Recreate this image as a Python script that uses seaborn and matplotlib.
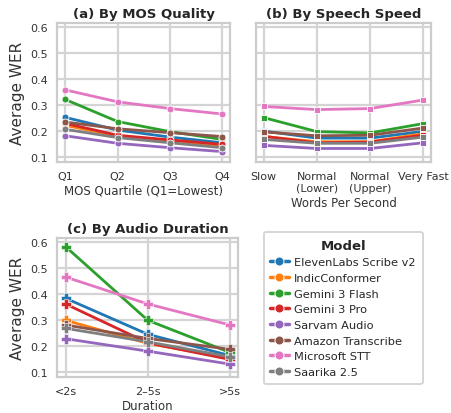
import pandas as pd
import seaborn as sns
import matplotlib
matplotlib.use('Agg')
import matplotlib.pyplot as plt

models = ['ElevenLabs Scribe v2', 'IndicConformer', 'Gemini 3 Flash', 'Gemini 3 Pro',
          'Sarvam Audio', 'Amazon Transcribe', 'Microsoft STT', 'Saarika 2.5']

# (a) MOS quartiles
mos_cats = ['Q1', 'Q2', 'Q3', 'Q4']
mos_wer = {
    'ElevenLabs Scribe v2': [0.253, 0.204, 0.177, 0.155],
    'IndicConformer':       [0.222, 0.182, 0.162, 0.145],
    'Gemini 3 Flash':       [0.322, 0.237, 0.198, 0.168],
    'Gemini 3 Pro':         [0.230, 0.184, 0.166, 0.149],
    'Sarvam Audio':         [0.182, 0.153, 0.136, 0.121],
    'Amazon Transcribe':    [0.235, 0.209, 0.194, 0.179],
    'Microsoft STT':        [0.359, 0.313, 0.287, 0.266],
    'Saarika 2.5':          [0.207, 0.175, 0.155, 0.136],
}

# (b) speech speed
speed_cats = ['Slow', 'Normal\n(Lower)', 'Normal\n(Upper)', 'Very Fast']
speed_wer = {
    'ElevenLabs Scribe v2': [0.200, 0.173, 0.173, 0.199],
    'IndicConformer':       [0.179, 0.159, 0.159, 0.190],
    'Gemini 3 Flash':       [0.252, 0.198, 0.193, 0.229],
    'Gemini 3 Pro':         [0.180, 0.155, 0.158, 0.184],
    'Sarvam Audio':         [0.145, 0.133, 0.133, 0.155],
    'Amazon Transcribe':    [0.197, 0.182, 0.184, 0.212],
    'Microsoft STT':        [0.295, 0.283, 0.287, 0.320],
    'Saarika 2.5':          [0.168, 0.153, 0.153, 0.177],
}

# (c) audio duration
dur_cats = ['<2s', '2–5s', '>5s']
dur_wer = {
    'ElevenLabs Scribe v2': [0.384, 0.245, 0.163],
    'IndicConformer':       [0.299, 0.210, 0.152],
    'Gemini 3 Flash':       [0.583, 0.299, 0.175],
    'Gemini 3 Pro':         [0.362, 0.212, 0.148],
    'Sarvam Audio':         [0.228, 0.180, 0.130],
    'Amazon Transcribe':    [0.281, 0.229, 0.187],
    'Microsoft STT':        [0.466, 0.362, 0.281],
    'Saarika 2.5':          [0.268, 0.216, 0.158],
}


def to_long(cats, data):
    rows = []
    for m in models:
        for c, v in zip(cats, data[m]):
            rows.append({'cat': c, 'WER': v, 'Model': m})
    return pd.DataFrame(rows)


sns.set_theme(style='whitegrid', context='paper')
plt.rcParams['font.family'] = ['DejaVu Sans']
plt.rcParams['axes.edgecolor'] = '#cccccc'
plt.rcParams['axes.linewidth'] = 1.6
plt.rcParams['grid.linewidth'] = 1.6
plt.rcParams['grid.color'] = '#d4d4d4'

palette = dict(zip(models, sns.color_palette('tab10', 8)))

fig = plt.figure(figsize=(4.52, 4.14), dpi=100)
ax_a = fig.add_axes([0.127, 0.607, 0.382, 0.335])
ax_b = fig.add_axes([0.566, 0.607, 0.388, 0.335], sharey=ax_a)
ax_c = fig.add_axes([0.127, 0.088, 0.40, 0.335])

panels = [
    (ax_a, mos_cats, mos_wer, 'o', 5, 0.6, '(a) By MOS Quality', 'MOS Quartile (Q1=Lowest)'),
    (ax_b, speed_cats, speed_wer, 's', 5, 0.6, '(b) By Speech Speed', 'Words Per Second'),
    (ax_c, dur_cats, dur_wer, 'P', 6.5, 0.4, '(c) By Audio Duration', 'Duration'),
]

for ax, cats, data, mk, ms, mew, title, xlabel in panels:
    df = to_long(cats, data)
    sns.lineplot(data=df, x='cat', y='WER', hue='Model', style='Model', palette=palette,
                 markers={m: mk for m in models}, dashes=False,
                 markersize=ms, markeredgecolor='white', markeredgewidth=mew,
                 linewidth=2, sort=False, ax=ax, legend=False)
    ax.set_title(title, fontsize=9.5, fontweight='bold', pad=4, color='#262626')
    ax.set_xlabel(xlabel, fontsize=8.5, color='#333333', labelpad=2)
    ax.set_ylim(0.082, 0.617)
    ax.set_yticks([0.1, 0.2, 0.3, 0.4, 0.5, 0.6])
    ax.tick_params(labelsize=8, colors='#333333', pad=2)
    ax.margins(x=0.05)
    for s in ax.spines.values():
        s.set_visible(True)

ax_a.set_ylabel('Average WER', fontsize=11, color='#333333')
ax_c.set_ylabel('Average WER', fontsize=11, color='#333333')
ax_b.set_ylabel('')
plt.setp(ax_b.get_yticklabels(), visible=False)

handles = [plt.Line2D([], [], color=palette[m], lw=2.5, marker='o', markersize=6.5,
                      markeredgecolor='white', markeredgewidth=0.7) for m in models]
leg = fig.legend(handles, models, title='Model', loc='center',
                 bbox_to_anchor=(0.759, 0.254), fontsize=8.2,
                 title_fontproperties={'weight': 'bold', 'size': 9.5},
                 frameon=True, handlelength=1.6, labelspacing=0.5, borderpad=0.6,
                 handletextpad=0.5)
leg.get_frame().set_edgecolor('#cccccc')
leg.get_frame().set_linewidth(1.4)

fig.savefig('out.png', dpi=100)
